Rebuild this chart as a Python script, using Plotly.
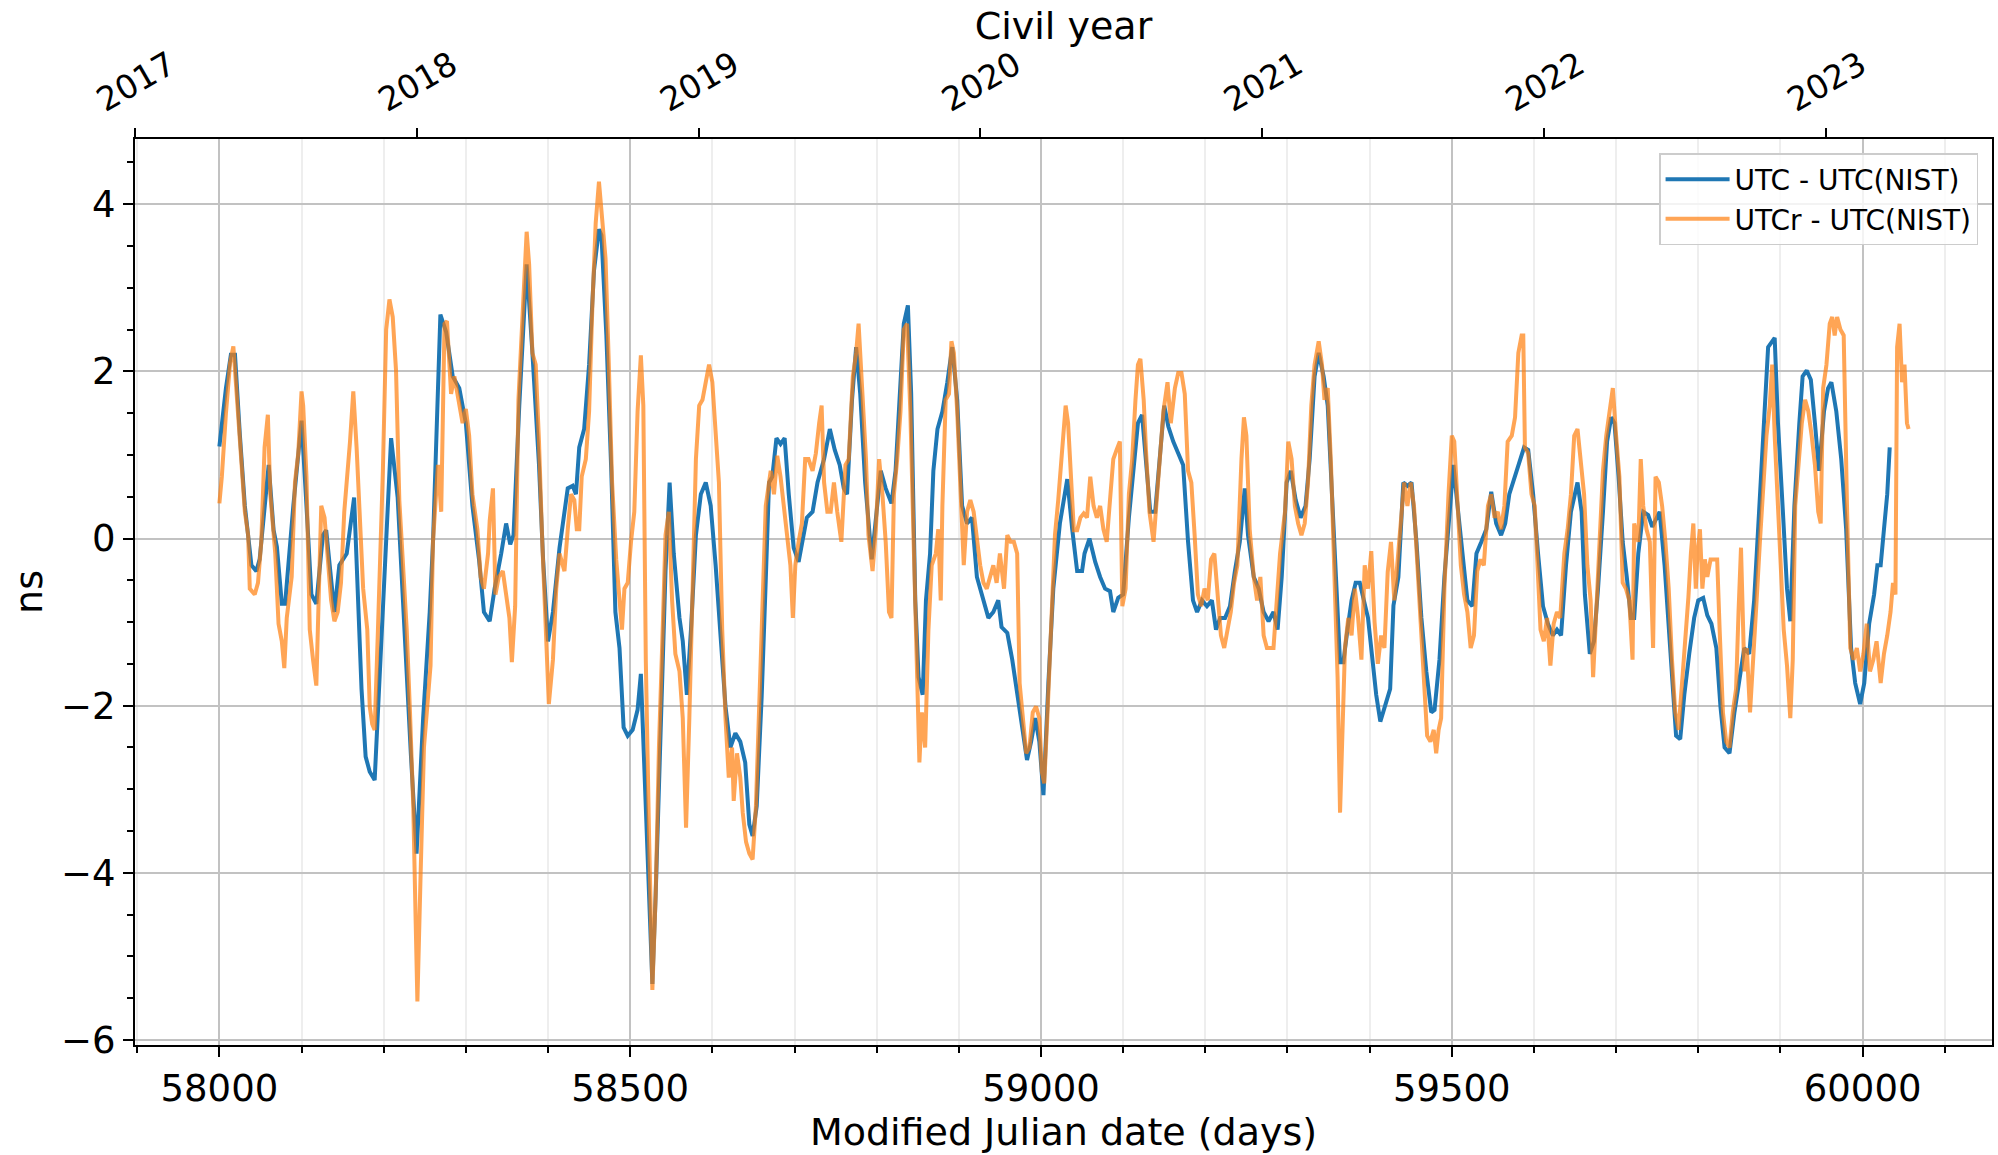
import plotly.graph_objects as go

# UTC - UTC(NIST), 5-day points (MJD, ns)
mjd_utc = [
    58000, 58008, 58014, 58019, 58025, 58031, 58039, 58045, 58049, 58057, 58060, 58066, 58070, 58076,
    58080, 58090, 58100, 58106, 58112, 58118, 58126, 58130, 58134, 58140, 58146, 58155, 58164, 58169,
    58173, 58178, 58183, 58189, 58194, 58201, 58209, 58217, 58225, 58233, 58240, 58248, 58256, 58260,
    58269, 58276, 58284, 58292, 58300, 58308, 58316, 58322, 58329, 58335, 58343, 58349, 58354, 58358,
    58365, 58374, 58381, 58389, 58394, 58400, 58406, 58414, 58424, 58430, 58434, 58438, 58444, 58450,
    58456, 58462, 58465, 58471, 58477, 58482, 58487, 58492, 58497, 58503, 58509, 58513, 58519, 58524,
    58527, 58531, 58537, 58543, 58548, 58553, 58560, 58564, 58569, 58574, 58580, 58586, 58592, 58598,
    58604, 58610, 58616, 58622, 58628, 58634, 58640, 58645, 58649, 58654, 58660, 58665, 58669, 58673,
    58678, 58683, 58688, 58693, 58699, 58705, 58709, 58715, 58722, 58728, 58736, 58743, 58749, 58755,
    58760, 58764, 58770, 58775, 58780, 58786, 58794, 58799, 58805, 58811, 58818, 58823, 58829, 58833,
    58838, 58842, 58847, 58851, 58856, 58860, 58865, 58869, 58874, 58880, 58886, 58892, 58898, 58904,
    58910, 58916, 58922, 58928, 58936, 58942, 58948, 58952, 58959, 58965, 58971, 58977, 58983, 58988,
    58993, 58998, 59003, 59009, 59015, 59023, 59032, 59038, 59044, 59050, 59053, 59059, 59066, 59072,
    59078, 59084, 59088, 59094, 59100, 59107, 59113, 59118, 59123, 59128, 59133, 59139, 59145, 59150,
    59155, 59161, 59167, 59173, 59179, 59185, 59190, 59196, 59202, 59208, 59213, 59218, 59224, 59230,
    59236, 59242, 59248, 59252, 59259, 59265, 59271, 59277, 59283, 59288, 59293, 59299, 59304, 59310,
    59316, 59322, 59327, 59333, 59338, 59344, 59349, 59354, 59359, 59364, 59368, 59373, 59378, 59383,
    59388, 59393, 59398, 59404, 59408, 59413, 59419, 59425, 59429, 59435, 59441, 59446, 59451, 59457,
    59463, 59469, 59475, 59479, 59485, 59491, 59498, 59502, 59507, 59513, 59519, 59525, 59530, 59536,
    59542, 59548, 59554, 59560, 59565, 59570, 59577, 59583, 59588, 59593, 59599, 59605, 59611, 59617,
    59623, 59628, 59633, 59639, 59645, 59653, 59658, 59662, 59668, 59673, 59678, 59684, 59689, 59694,
    59698, 59703, 59708, 59713, 59718, 59722, 59727, 59733, 59739, 59744, 59749, 59753, 59759, 59765,
    59770, 59773, 59778, 59783, 59789, 59795, 59800, 59806, 59811, 59816, 59822, 59827, 59832, 59838,
    59844, 59850, 59856, 59862, 59868, 59874, 59880, 59885, 59893, 59897, 59903, 59908, 59912, 59917,
    59923, 59927, 59932, 59937, 59942, 59947, 59953, 59958, 59962, 59968, 59974, 59980, 59986, 59991,
    59997, 60002, 60008, 60014, 60018, 60022, 60026, 60030, 60033,
]
utc_nist = [
    1.10, 1.80, 2.20, 2.20, 1.23, 0.39, -0.32, -0.39, -0.25, 0.56, 0.88, 0.10, -0.10, -0.78,
    -0.78, 0.39, 1.41, 0.39, -0.67, -0.78, 0.04, 0.10, -0.32, -0.88, -0.32, -0.18, 0.49, -0.95,
    -1.80, -2.61, -2.79, -2.89, -1.87, -0.46, 1.20, 0.49, -1.09, -2.57, -3.77, -2.15, -0.88, -0.04,
    2.68, 2.47, 1.94, 1.80, 1.38, 0.39, -0.25, -0.88, -0.99, -0.60, -0.18, 0.18, -0.07, 0.04,
    1.59, 3.28, 2.22, 0.88, -0.25, -1.23, -0.88, -0.11, 0.60, 0.63, 0.53, 1.09, 1.31, 2.08,
    3.21, 3.70, 3.63, 2.43, 0.81, -0.88, -1.31, -2.26, -2.36, -2.29, -2.05, -1.62, -3.21, -4.62,
    -5.33, -4.27, -2.50, -0.39, 0.67, -0.18, -0.95, -1.23, -1.87, -1.09, 0.04, 0.53, 0.67, 0.39,
    -0.32, -1.16, -2.01, -2.50, -2.33, -2.43, -2.68, -3.42, -3.56, -3.20, -1.90, -0.50, 0.67, 0.74,
    1.20, 1.13, 1.20, 0.53, -0.11, -0.28, -0.04, 0.25, 0.32, 0.67, 0.95, 1.31, 1.06, 0.88,
    0.60, 0.53, 1.66, 2.29, 1.73, 0.67, -0.25, 0.25, 0.81, 0.60, 0.42, 0.81, 1.94, 2.57,
    2.79, 1.73, -0.74, -1.66, -1.87, -0.74, -0.18, 0.81, 1.31, 1.52, 1.87, 2.29, 1.66, 0.39,
    0.18, 0.25, -0.46, -0.67, -0.95, -0.88, -0.74, -1.06, -1.13, -1.45, -1.87, -2.22, -2.65, -2.43,
    -2.15, -2.43, -3.07, -1.73, -0.60, 0.18, 0.71, 0.11, -0.39, -0.39, -0.18, 0.00, -0.28, -0.46,
    -0.60, -0.63, -0.88, -0.71, -0.67, 0.25, 0.88, 1.38, 1.48, 0.88, 0.32, 0.32, 0.95, 1.59,
    1.34, 1.16, 1.02, 0.88, -0.04, -0.74, -0.88, -0.74, -0.81, -0.74, -1.09, -0.95, -0.95, -0.81,
    -0.39, -0.04, 0.60, 0.04, -0.46, -0.60, -0.88, -0.99, -0.88, -1.09, -0.46, 0.67, 0.81, 0.46,
    0.25, 0.39, 0.95, 1.94, 2.22, 1.94, 1.59, 0.67, -0.46, -1.48, -1.48, -1.09, -0.74, -0.53,
    -0.53, -0.74, -0.95, -1.50, -1.87, -2.19, -1.98, -1.80, -0.80, -0.46, 0.67, 0.63, 0.67, -0.04,
    -0.95, -1.59, -2.08, -2.05, -1.45, -0.46, 0.39, 0.88, 0.39, -0.18, -0.74, -0.81, -0.18, -0.04,
    0.11, 0.56, 0.18, 0.04, 0.18, 0.53, 0.74, 0.95, 1.09, 1.06, 0.53, -0.18, -0.81, -1.02,
    -1.16, -1.09, -1.16, -0.32, 0.32, 0.67, 0.32, -0.67, -1.38, -1.23, -0.60, 0.32, 1.16, 1.45,
    1.38, 0.74, -0.04, -0.46, -0.95, -0.95, -0.18, 0.32, 0.28, 0.14, 0.25, 0.32, -0.32, -1.16,
    -2.01, -2.36, -2.40, -1.87, -1.38, -0.95, -0.74, -0.71, -0.92, -1.02, -1.31, -2.01, -2.50, -2.57,
    -2.08, -1.73, -1.31, -1.38, -0.74, 0.32, 1.38, 2.29, 2.40, 1.38, 0.32, -0.60, -0.99, 0.39,
    1.38, 1.94, 2.01, 1.90, 1.38, 0.81, 1.52, 1.80, 1.87, 1.52, 0.95, 0.11, -1.31, -1.73,
    -1.98, -1.73, -1.02, -0.67, -0.32, -0.32, 0.11, 0.53, 1.09,
]

# UTCr - UTC(NIST), daily rapid solution (MJD, ns)
mjd_utcr = [
    58000, 58003, 58008, 58013, 58017, 58021, 58027, 58031, 58035, 58037, 58043, 58047, 58051, 58055,
    58059, 58062, 58068, 58072, 58076, 58079, 58082, 58088, 58092, 58096, 58100, 58102, 58106, 58110,
    58114, 58118, 58121, 58124, 58128, 58132, 58136, 58140, 58144, 58148, 58152, 58159, 58163, 58167,
    58171, 58175, 58180, 58183, 58186, 58189, 58193, 58199, 58203, 58207, 58211, 58215, 58219, 58224,
    58228, 58232, 58236, 58239, 58241, 58245, 58249, 58253, 58257, 58260, 58266, 58270, 58274, 58277,
    58282, 58286, 58290, 58296, 58300, 58304, 58308, 58314, 58318, 58322, 58327, 58329, 58333, 58336,
    58340, 58345, 58349, 58353, 58356, 58360, 58364, 58369, 58374, 58377, 58381, 58385, 58389, 58393,
    58397, 58401, 58406, 58410, 58414, 58420, 58424, 58428, 58432, 58435, 58438, 58441, 58446, 58450,
    58454, 58458, 58462, 58466, 58470, 58474, 58478, 58483, 58487, 58490, 58493, 58497, 58501, 58505,
    58509, 58513, 58516, 58519, 58523, 58527, 58531, 58535, 58540, 58543, 58547, 58551, 58555, 58560,
    58564, 58568, 58572, 58576, 58580, 58584, 58588, 58592, 58596, 58600, 58604, 58608, 58612, 58616,
    58620, 58624, 58626, 58630, 58634, 58637, 58641, 58645, 58649, 58653, 58657, 58661, 58665, 58669,
    58671, 58675, 58679, 58683, 58687, 58691, 58695, 58698, 58701, 58705, 58709, 58713, 58717, 58722,
    58726, 58730, 58733, 58736, 58740, 58744, 58748, 58752, 58757, 58762, 58766, 58771, 58775, 58778,
    58782, 58787, 58790, 58795, 58799, 58803, 58807, 58811, 58815, 58818, 58821, 58825, 58829, 58833,
    58837, 58841, 58845, 58849, 58852, 58855, 58859, 58863, 58867, 58872, 58875, 58878, 58880, 58884,
    58888, 58891, 58894, 58898, 58902, 58906, 58910, 58914, 58918, 58922, 58926, 58930, 58934, 58938,
    58942, 58946, 58950, 58955, 58959, 58963, 58967, 58971, 58974, 58978, 58982, 58986, 58990, 58994,
    58998, 59001, 59004, 59008, 59013, 59017, 59021, 59025, 59030, 59033, 59036, 59040, 59044, 59048,
    59052, 59056, 59060, 59064, 59068, 59072, 59076, 59080, 59084, 59088, 59092, 59096, 59099, 59103,
    59107, 59111, 59115, 59118, 59121, 59125, 59128, 59132, 59137, 59141, 59145, 59149, 59154, 59158,
    59163, 59167, 59171, 59175, 59179, 59183, 59187, 59191, 59195, 59199, 59203, 59207, 59211, 59215,
    59219, 59223, 59227, 59231, 59235, 59239, 59244, 59247, 59250, 59254, 59259, 59263, 59267, 59271,
    59275, 59279, 59283, 59287, 59291, 59297, 59301, 59305, 59309, 59313, 59317, 59321, 59325, 59329,
    59333, 59338, 59342, 59345, 59349, 59353, 59357, 59361, 59364, 59367, 59370, 59374, 59378, 59382,
    59386, 59390, 59394, 59398, 59402, 59406, 59410, 59414, 59418, 59422, 59426, 59430, 59434, 59438,
    59442, 59446, 59450, 59454, 59458, 59462, 59466, 59470, 59474, 59478, 59481, 59484, 59487, 59491,
    59496, 59500, 59503, 59507, 59511, 59515, 59519, 59523, 59527, 59531, 59535, 59539, 59544, 59548,
    59552, 59556, 59560, 59564, 59568, 59573, 59577, 59581, 59585, 59587, 59589, 59593, 59597, 59601,
    59604, 59608, 59612, 59616, 59620, 59624, 59628, 59632, 59637, 59641, 59645, 59649, 59653, 59657,
    59661, 59665, 59669, 59672, 59676, 59680, 59684, 59688, 59692, 59696, 59700, 59704, 59708, 59712,
    59716, 59720, 59722, 59727, 59730, 59733, 59737, 59741, 59745, 59748, 59752, 59756, 59760, 59764,
    59768, 59772, 59776, 59780, 59784, 59788, 59791, 59794, 59797, 59799, 59802, 59805, 59808, 59811,
    59815, 59819, 59823, 59826, 59830, 59834, 59838, 59842, 59846, 59849, 59852, 59856, 59859, 59863,
    59867, 59871, 59875, 59879, 59883, 59887, 59890, 59893, 59896, 59900, 59904, 59908, 59912, 59915,
    59918, 59922, 59926, 59930, 59934, 59938, 59942, 59946, 59949, 59952, 59956, 59960, 59963, 59966,
    59969, 59973, 59977, 59981, 59985, 59989, 59993, 59997, 60001, 60005, 60009, 60013, 60017, 60022,
    60026, 60030, 60034, 60037, 60040, 60042, 60045, 60048, 60051, 60054, 60056,
]
utcr_nist = [
    0.42, 0.74, 1.50, 2.10, 2.30, 1.73, 0.95, 0.32, 0.04, -0.60, -0.67, -0.53, -0.04, 1.09,
    1.48, 0.53, -0.18, -1.02, -1.23, -1.55, -0.95, -0.46, 0.67, 1.02, 1.76, 1.59, 0.74, -1.09,
    -1.45, -1.76, -0.67, 0.39, 0.25, -0.25, -0.74, -0.99, -0.88, -0.53, 0.32, 1.16, 1.76, 1.09,
    0.32, -0.60, -1.09, -2.01, -2.22, -2.29, -1.09, 0.81, 2.50, 2.86, 2.65, 2.01, 0.46, -0.39,
    -1.09, -2.08, -3.21, -4.62, -5.54, -3.99, -2.50, -2.01, -1.52, -0.04, 0.88, 0.32, 2.57, 2.60,
    1.73, 1.94, 1.73, 1.38, 1.55, 1.23, 0.53, 0.11, -0.46, -0.60, -0.18, 0.21, 0.60, -0.67,
    -0.46, -0.39, -0.67, -0.95, -1.48, -0.81, 1.66, 2.57, 3.67, 3.28, 2.22, 2.08, 1.16, -0.04,
    -1.16, -1.98, -1.45, -0.60, -0.18, -0.39, 0.11, 0.53, 0.46, 0.11, 0.11, 0.74, 0.95, 1.52,
    2.79, 3.77, 4.27, 3.77, 3.35, 2.08, 0.67, -0.25, -0.67, -1.09, -0.60, -0.53, -0.04, 0.32,
    1.52, 2.19, 1.59, -1.45, -3.56, -5.40, -4.27, -2.50, -0.95, 0.04, 0.32, -0.74, -1.38, -1.59,
    -2.15, -3.46, -2.15, -0.74, 0.95, 1.59, 1.66, 1.87, 2.08, 1.87, 1.31, 0.67, -1.09, -2.15,
    -2.86, -2.50, -3.14, -2.57, -2.86, -3.28, -3.63, -3.77, -3.84, -3.21, -2.01, -0.74, 0.39, 0.67,
    0.81, 0.53, 0.99, 0.74, 0.39, -0.04, -0.32, -0.95, -0.32, -0.04, 0.18, 0.95, 0.95, 0.81,
    1.02, 1.38, 1.59, 0.67, 0.32, 0.32, 0.67, 0.32, -0.04, 0.88, 0.95, 1.94, 2.22, 2.57,
    1.87, 0.95, 0.04, -0.39, 0.11, 0.95, 0.53, -0.04, -0.88, -0.95, 0.53, 0.95, 1.52, 2.50,
    2.57, 1.52, -0.04, -1.73, -2.68, -2.08, -2.50, -1.09, -0.32, -0.18, 0.11, -0.74, 0.39, 1.66,
    1.73, 2.36, 2.22, 1.52, 0.46, -0.32, 0.32, 0.46, 0.32, -0.04, -0.32, -0.53, -0.60, -0.46,
    -0.32, -0.53, -0.18, -0.60, 0.04, -0.04, -0.04, -0.18, -1.73, -2.15, -2.57, -2.50, -2.08, -2.01,
    -2.15, -2.79, -2.93, -2.08, -0.74, 0.04, 0.46, 0.95, 1.59, 1.38, 0.74, 0.10, 0.10, 0.25,
    0.30, 0.25, 0.74, 0.39, 0.25, 0.39, 0.11, -0.04, 0.46, 0.95, 1.06, 1.16, -0.81, -0.60,
    0.53, 0.95, 1.66, 2.08, 2.15, 1.66, 1.02, 0.32, -0.04, 0.53, 1.02, 1.52, 1.87, 1.38,
    1.80, 1.98, 1.98, 1.73, 0.81, 0.67, 0.04, -0.67, -0.81, -0.60, -0.74, -0.25, -0.18, -0.67,
    -1.16, -1.31, -1.09, -0.88, -0.53, -0.32, 0.95, 1.45, 1.23, 0.11, -0.46, -0.74, -0.46, -1.16,
    -1.31, -1.31, -1.31, -0.74, -0.18, 0.32, 1.16, 0.95, 0.39, 0.18, 0.04, 0.18, 0.67, 1.59,
    2.08, 2.36, 2.08, 1.66, 1.80, 0.88, -0.60, -1.66, -3.28, -2.15, -1.31, -0.95, -1.16, -0.60,
    -0.95, -1.45, -0.32, -0.60, -0.15, -1.00, -1.50, -1.16, -1.31, -0.40, -0.04, -0.74, -0.30, 0.25,
    0.67, 0.39, 0.67, 0.39, -0.25, -0.95, -1.59, -2.36, -2.43, -2.29, -2.57, -2.29, -2.15, -0.60,
    0.53, 1.23, 1.16, 0.39, -0.32, -0.67, -0.88, -1.31, -1.16, -0.39, -0.25, -0.32, 0.39, 0.53,
    0.25, 0.32, 0.11, 0.39, 1.16, 1.23, 1.45, 2.22, 2.43, 2.43, 1.09, 1.02, 0.53, 0.39,
    -0.32, -1.09, -1.23, -0.95, -1.52, -1.02, -0.88, -0.95, -0.18, 0.11, 0.53, 1.23, 1.31, 0.88,
    0.53, -0.32, -0.74, -1.66, -0.81, -0.18, 0.81, 1.23, 1.52, 1.80, 1.23, 0.74, -0.53, -0.60,
    -0.74, -1.45, 0.18, -0.04, 0.95, 0.39, 0.11, -0.04, -1.31, 0.74, 0.67, 0.39, -0.04, -0.60,
    -1.45, -2.08, -2.29, -1.80, -1.20, -0.70, -0.18, 0.18, -0.60, -0.18, 0.11, -0.60, -0.25, -0.46,
    -0.25, -0.25, -0.25, -1.09, -2.08, -2.43, -2.50, -2.08, -1.80, -0.88, -0.11, -1.59, -1.31, -2.08,
    -1.31, -0.74, -0.04, 0.53, 1.23, 1.59, 2.08, 1.23, 0.53, -0.39, -1.09, -1.52, -2.15, -1.45,
    0.39, 0.88, 1.38, 1.66, 1.52, 1.23, 0.88, 0.32, 0.18, 1.80, 2.08, 2.57, 2.65, 2.43,
    2.65, 2.50, 2.43, 0.39, -1.31, -1.45, -1.31, -1.59, -1.38, -1.02, -1.59, -1.45, -1.23, -1.73,
    -1.38, -1.16, -0.88, -0.53, -0.67, 2.29, 2.57, 1.87, 2.08, 1.38, 1.31,
]

# Civil-year axis along the top
year_ticks = [2017, 2018, 2019, 2020, 2021, 2022, 2023]
year_range = [2017.0, 2023.59]

mjd_ticks = [58000, 58500, 59000, 59500, 60000]
ns_ticks = [-6, -4, -2, 0, 2, 4]

FONT = "DejaVu Sans"
GRID = "#c2c2c2"

fig = go.Figure()

fig.add_trace(go.Scatter(
    x=mjd_utc, y=utc_nist, mode="lines", name="UTC - UTC(NIST)",
    line=dict(color="#1f77b4", width=4),
))
fig.add_trace(go.Scatter(
    x=mjd_utcr, y=utcr_nist, mode="lines", name="UTCr - UTC(NIST)",
    line=dict(color="#ff7f0e", width=4), opacity=0.7,
))
# anchor trace that binds the civil-year axis
fig.add_trace(go.Scatter(
    x=year_range, y=[None, None], xaxis="x2", yaxis="y",
    mode="lines", showlegend=False, hoverinfo="skip",
))

fig.update_layout(
    width=1998, height=1155,
    margin=dict(l=135, r=4, t=139, b=110),
    paper_bgcolor="white", plot_bgcolor="white",
    font=dict(family=FONT, color="black"),
    # label of the civil-year axis, centred over the plotting area
    title=dict(text="Civil year", font=dict(size=38, family=FONT, color="black"),
               xref="paper", x=0.5, xanchor="center",
               yref="container", y=0.978, yanchor="middle"),
    showlegend=True,
    legend=dict(
        x=0.9925, y=0.9845, xanchor="right", yanchor="top",
        bgcolor="rgba(255,255,255,0.8)", bordercolor="#cccccc", borderwidth=1.5,
        font=dict(size=28, family=FONT), tracegroupgap=0, itemwidth=64,
    ),
    xaxis=dict(
        range=[57897.3, 60157.5],
        tickmode="array", tickvals=mjd_ticks, tickformat="d",
        ticks="outside", ticklen=10, tickwidth=2, tickcolor="black",
        showline=True, linecolor="black", linewidth=2, mirror=True,
        showgrid=True, gridcolor=GRID, gridwidth=2, zeroline=False,
        minor=dict(dtick=100, tick0=0, ticks="outside", ticklen=6, tickwidth=1.6,
                   tickcolor="black", showgrid=True, gridcolor="#eeeeee", gridwidth=2),
        tickfont=dict(size=37, family=FONT),
        title=dict(text="Modified Julian date (days)", font=dict(size=38, family=FONT), standoff=6),
    ),
    xaxis2=dict(
        overlaying="x", side="top", anchor="y",
        range=year_range,
        tickmode="array", tickvals=year_ticks, tickformat="d",
        ticks="outside", ticklen=10, tickwidth=2, tickcolor="black",
        showline=False, showgrid=False, zeroline=False,
        tickangle=-30, ticklabelshift=-38,
        tickfont=dict(size=33, family=FONT),
    ),
    yaxis=dict(
        range=[-6.06, 4.78],
        tickmode="array", tickvals=ns_ticks,
        ticks="outside", ticklen=10, tickwidth=2, tickcolor="black",
        showline=True, linecolor="black", linewidth=2, mirror=True,
        showgrid=True, gridcolor=GRID, gridwidth=2, zeroline=False,
        minor=dict(dtick=0.5, tick0=0, ticks="outside", ticklen=6, tickwidth=1.6,
                   tickcolor="black", showgrid=False),
        tickfont=dict(size=37, family=FONT),
        title=dict(text="ns", font=dict(size=38, family=FONT), standoff=7),
    ),
)

fig.write_html("out.html")
